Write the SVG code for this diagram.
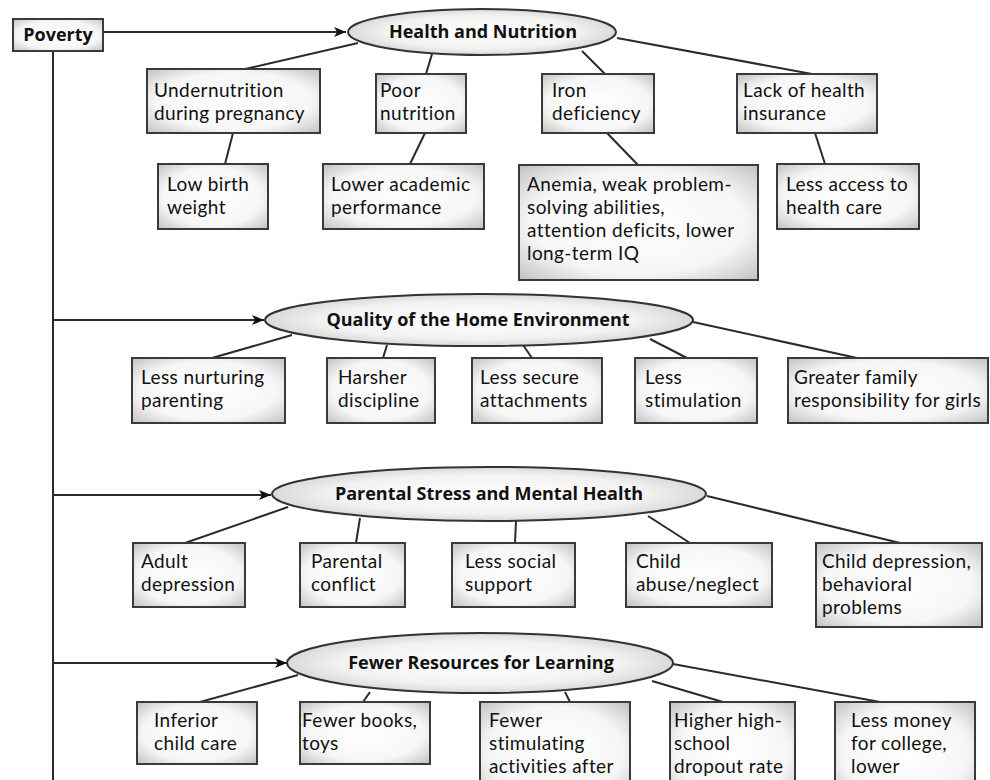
<svg xmlns="http://www.w3.org/2000/svg" width="990" height="780" viewBox="0 0 990 780">
<style>
.bx{stroke:#3a3a3a;stroke-width:2;fill:url(#bg)}
.el{stroke:#333;stroke-width:2;fill:url(#eg)}
.t{font-family:Lato,"Open Sans","Liberation Sans",sans-serif;font-size:19px;letter-spacing:0.4px;fill:#111}
.h{font-family:"Open Sans","Liberation Sans",sans-serif;font-size:18px;font-weight:bold;fill:#111;text-anchor:middle}
.c line{stroke:#2a2a2a;stroke-width:2}
.a{marker-end:url(#ah)}
</style>
<defs>
<radialGradient id="bg" cx="0.5" cy="0.5" r="0.75">
<stop offset="0" stop-color="#ffffff"/>
<stop offset="0.6" stop-color="#f6f6f6"/>
<stop offset="1" stop-color="#b8b8b8"/>
</radialGradient>
<radialGradient id="eg" cx="0.5" cy="0.5" r="0.6">
<stop offset="0" stop-color="#ffffff"/>
<stop offset="0.6" stop-color="#f2f2f2"/>
<stop offset="1" stop-color="#c8c8c8"/>
</radialGradient>
<marker id="ah" viewBox="0 0 12 10" refX="12" refY="5" markerWidth="12" markerHeight="10" markerUnits="userSpaceOnUse" orient="auto">
<path d="M0,0 L12,5 L0,10 L3,5 Z" fill="#111"/>
</marker>
</defs>
<rect width="990" height="780" fill="#fff"/>

<g class="c" id="connectors">
<line x1="53" y1="51" x2="53" y2="780"/>
<line class="a" x1="103" y1="32" x2="346" y2="32"/>
<line class="a" x1="53" y1="320" x2="264" y2="320"/>
<line class="a" x1="53" y1="495" x2="271" y2="495"/>
<line class="a" x1="53" y1="663" x2="287" y2="663"/>
<line x1="358" y1="43" x2="245" y2="69"/>
<line x1="432" y1="54" x2="426" y2="74"/>
<line x1="582" y1="51" x2="605" y2="74"/>
<line x1="617" y1="38" x2="812" y2="74"/>
<line x1="233" y1="133" x2="225" y2="164"/>
<line x1="425" y1="133" x2="410" y2="164"/>
<line x1="607" y1="133" x2="638" y2="165"/>
<line x1="815" y1="133" x2="825" y2="164"/>
<line x1="292" y1="335" x2="212" y2="358"/>
<line x1="387" y1="345" x2="383" y2="358"/>
<line x1="523" y1="345" x2="532" y2="358"/>
<line x1="650" y1="339" x2="687" y2="358"/>
<line x1="693" y1="322" x2="857" y2="358"/>
<line x1="288" y1="507" x2="185" y2="543"/>
<line x1="360" y1="518" x2="356" y2="543"/>
<line x1="516" y1="521" x2="515" y2="543"/>
<line x1="648" y1="516" x2="690" y2="543"/>
<line x1="707" y1="496" x2="900" y2="543"/>
<line x1="298" y1="675" x2="200" y2="702"/>
<line x1="370" y1="692" x2="363" y2="702"/>
<line x1="565" y1="692" x2="570" y2="702"/>
<line x1="652" y1="681" x2="723" y2="702"/>
<line x1="673" y1="664" x2="880" y2="702"/>
</g>

<g id="poverty"><rect class="bx" x="13" y="19" width="90" height="32"/><text class="h" x="58" y="41" text-anchor="middle">Poverty</text></g>

<g id="health"><ellipse class="el" cx="482" cy="32" rx="134" ry="23"/><text class="h" x="483" y="38">Health and Nutrition</text></g>
<g id="undernutrition"><rect class="bx" x="147" y="69" width="173" height="64"/><text class="t" x="154" y="97">Undernutrition<tspan x="154" dy="23">during pregnancy</tspan></text></g>
<g id="poornutrition"><rect class="bx" x="376" y="74" width="90" height="59"/><text class="t" x="380" y="97">Poor<tspan x="380" dy="23">nutrition</tspan></text></g>
<g id="iron"><rect class="bx" x="542" y="74" width="112" height="59"/><text class="t" x="552" y="97">Iron<tspan x="552" dy="23">deficiency</tspan></text></g>
<g id="insurance"><rect class="bx" x="737" y="74" width="140" height="59"/><text class="t" x="743" y="97">Lack of health<tspan x="743" dy="23">insurance</tspan></text></g>
<g id="lowbirth"><rect class="bx" x="158" y="164" width="110" height="65"/><text class="t" x="167" y="191">Low birth<tspan x="167" dy="23">weight</tspan></text></g>
<g id="academic"><rect class="bx" x="323" y="164" width="161" height="65"/><text class="t" x="331" y="191">Lower academic<tspan x="331" dy="23">performance</tspan></text></g>
<g id="anemia"><rect class="bx" x="519" y="165" width="239" height="115"/><text class="t" x="527" y="191">Anemia, weak problem-<tspan x="527" dy="23">solving abilities,</tspan><tspan x="527" dy="23">attention deficits, lower</tspan><tspan x="527" dy="23">long-term IQ</tspan></text></g>
<g id="access"><rect class="bx" x="777" y="164" width="142" height="65"/><text class="t" x="786" y="191">Less access to<tspan x="786" dy="23">health care</tspan></text></g>

<g id="home"><ellipse class="el" cx="479" cy="320" rx="214" ry="26"/><text class="h" x="478" y="326">Quality of the Home Environment</text></g>
<g id="nurturing"><rect class="bx" x="132" y="358" width="153" height="65"/><text class="t" x="141" y="384">Less nurturing<tspan x="141" dy="23">parenting</tspan></text></g>
<g id="harsher"><rect class="bx" x="327" y="358" width="108" height="65"/><text class="t" x="338" y="384">Harsher<tspan x="338" dy="23">discipline</tspan></text></g>
<g id="secure"><rect class="bx" x="472" y="358" width="130" height="65"/><text class="t" x="480" y="384">Less secure<tspan x="480" dy="23">attachments</tspan></text></g>
<g id="stimulation"><rect class="bx" x="635" y="358" width="122" height="65"/><text class="t" x="645" y="384">Less<tspan x="645" dy="23">stimulation</tspan></text></g>
<g id="girls"><rect class="bx" x="788" y="358" width="200" height="65"/><text class="t" x="794" y="384">Greater family<tspan x="794" dy="23">responsibility for girls</tspan></text></g>

<g id="stress"><ellipse class="el" cx="489" cy="494" rx="217" ry="27"/><text class="h" x="489" y="500">Parental Stress and Mental Health</text></g>
<g id="adultdep"><rect class="bx" x="133" y="543" width="112" height="64"/><text class="t" x="141" y="568">Adult<tspan x="141" dy="23">depression</tspan></text></g>
<g id="conflict"><rect class="bx" x="300" y="543" width="105" height="64"/><text class="t" x="311" y="568">Parental<tspan x="311" dy="23">conflict</tspan></text></g>
<g id="social"><rect class="bx" x="452" y="543" width="123" height="64"/><text class="t" x="465" y="568">Less social<tspan x="465" dy="23">support</tspan></text></g>
<g id="abuse"><rect class="bx" x="626" y="543" width="146" height="64"/><text class="t" x="636" y="568">Child<tspan x="636" dy="23">abuse/neglect</tspan></text></g>
<g id="childdep"><rect class="bx" x="816" y="543" width="166" height="84"/><text class="t" x="822" y="568">Child depression,<tspan x="822" dy="23">behavioral</tspan><tspan x="822" dy="23">problems</tspan></text></g>

<g id="learning"><ellipse class="el" cx="480" cy="663" rx="193" ry="30"/><text class="h" x="481" y="669">Fewer Resources for Learning</text></g>
<g id="childcare"><rect class="bx" x="137" y="702" width="120" height="62"/><text class="t" x="154" y="727">Inferior<tspan x="154" dy="23">child care</tspan></text></g>
<g id="books"><rect class="bx" x="300" y="702" width="130" height="62"/><text class="t" x="302" y="727">Fewer books,<tspan x="302" dy="23">toys</tspan></text></g>
<g id="activities"><rect class="bx" x="480" y="702" width="150" height="100"/><text class="t" x="489" y="727">Fewer<tspan x="489" dy="23">stimulating</tspan><tspan x="489" dy="23">activities after</tspan></text></g>
<g id="dropout"><rect class="bx" x="670" y="702" width="125" height="100"/><text class="t" x="674" y="727">Higher high-<tspan x="674" dy="23">school</tspan><tspan x="674" dy="23">dropout rate</tspan></text></g>
<g id="college"><rect class="bx" x="835" y="702" width="140" height="100"/><text class="t" x="851" y="727">Less money<tspan x="851" dy="23">for college,</tspan><tspan x="851" dy="23">lower</tspan></text></g>
</svg>
